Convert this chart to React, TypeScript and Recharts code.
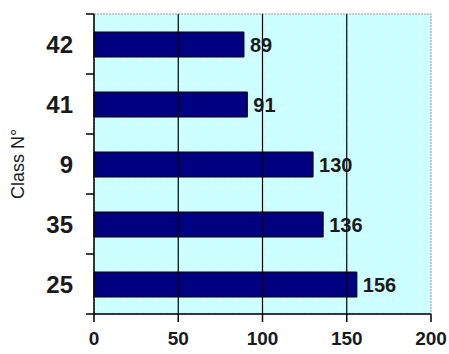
import { BarChart, Bar, XAxis, YAxis, CartesianGrid, ReferenceLine, ReferenceArea, LabelList } from 'recharts';

const classes = ['42', '41', '9', '35', '25'];
const students = [89, 91, 130, 136, 156];
const xTicks = [0, 50, 100, 150, 200];
const gridLines = [50, 100, 150];

const data = classes.map((c, i) => ({ cls: c, value: students[i] }));

const W = 449;
const H = 354;
const M = { top: 14, right: 18, bottom: 0, left: 0 };
const Y_W = 94;
const X_H = 40;
const AXIS_X = M.left + Y_W;
const BAND = (H - M.top - M.bottom - X_H) / classes.length;
const FONT = 'Arial, "Liberation Sans", sans-serif';

function ClassTick(props: any) {
  const { y, payload, index } = props;
  return (
    <g>
      <line x1={AXIS_X - 8} x2={AXIS_X} y1={y - BAND / 2} y2={y - BAND / 2} stroke="#000" strokeWidth={1.5} />
      {index === classes.length - 1 && (
        <line x1={AXIS_X - 8} x2={AXIS_X} y1={y + BAND / 2} y2={y + BAND / 2} stroke="#000" strokeWidth={1.5} />
      )}
      <text x={AXIS_X - 21} y={y} textAnchor="end" dominantBaseline="central" fontFamily={FONT} fontWeight="bold" fontSize={24} fill="#1a1a1a">
        {payload.value}
      </text>
    </g>
  );
}

export default function App() {
  return (
    <div style={{ position: 'absolute', left: 0, top: 0, width: W, height: H, background: '#fff' }}>
      <BarChart width={W} height={H} data={data} layout="vertical" margin={M} barSize={25}>
        <defs>
          <pattern id="dots" width="16" height="16" patternUnits="userSpaceOnUse">
            <rect width="16" height="16" fill="#CCFFFF" />
            <circle cx="4" cy="4" r="0.9" fill="#ffffff" />
            <circle cx="12" cy="12" r="0.9" fill="#ffffff" />
          </pattern>
        </defs>
        <CartesianGrid fill="url(#dots)" stroke="none" />
        <ReferenceArea x1={0} x2={200} fill="none" stroke="#999" strokeDasharray="2 1" ifOverflow="visible" />
        {gridLines.map((g) => (
          <ReferenceLine key={g} x={g} stroke="#000" strokeWidth={1.2} />
        ))}
        <XAxis
          type="number"
          domain={[0, 200]}
          ticks={xTicks}
          height={X_H}
          tickSize={8}
          tickMargin={10}
          axisLine={{ stroke: '#000', strokeWidth: 1.5 }}
          tickLine={{ stroke: '#000', strokeWidth: 1.5 }}
          tick={{ fill: '#1a1a1a', fontSize: 19, fontWeight: 'bold', fontFamily: FONT }}
        />
        <YAxis
          type="category"
          dataKey="cls"
          width={Y_W}
          axisLine={{ stroke: '#000', strokeWidth: 1.5 }}
          tickLine={false}
          tick={<ClassTick />}
          label={{
            content: ({ viewBox }: any) => (
              <text
                x={18}
                y={viewBox.y + viewBox.height / 2}
                transform={`rotate(-90, 18, ${viewBox.y + viewBox.height / 2})`}
                textAnchor="middle"
                dominantBaseline="central"
                fontFamily={FONT}
                fontSize={18}
                fill="#1a1a1a"
              >
                Class N°
              </text>
            ),
          }}
        />
        <Bar dataKey="value" fill="#000080" stroke="#000" strokeWidth={1} isAnimationActive={false}>
          <LabelList dataKey="value" position="right" offset={6} fill="#1a1a1a" fontSize={20} fontWeight="bold" fontFamily={FONT} />
        </Bar>
      </BarChart>
    </div>
  );
}
